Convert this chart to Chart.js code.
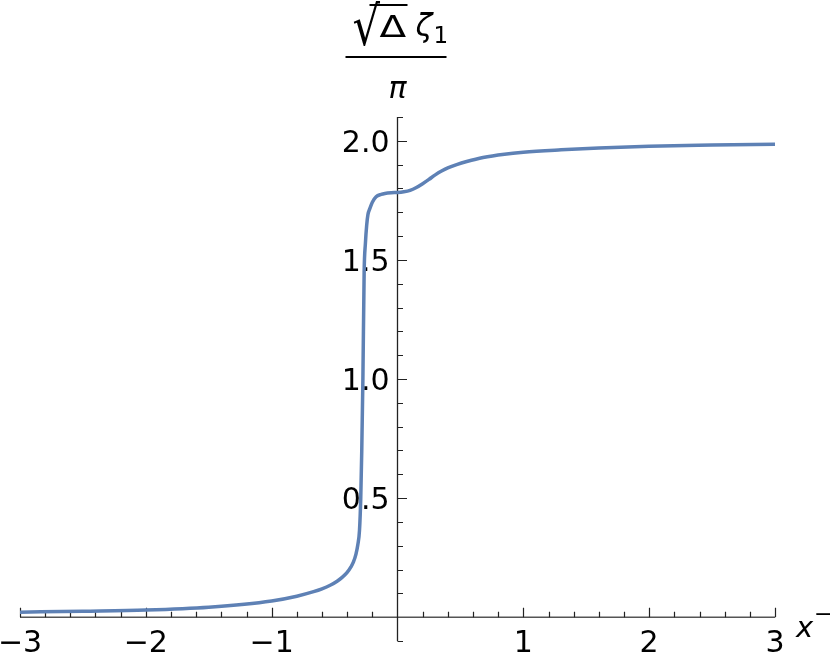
<!DOCTYPE html>
<html>
<head>
<meta charset="utf-8">
<script src="https://cdn.jsdelivr.net/npm/chart.js@4"></script>
<style>
body { margin: 0; background: #fff; }
#plot { display: block; }
</style>
</head>
<body>
<canvas id="plot" width="830" height="664"></canvas>
<script>
// curve
const xValues = [-3, -2.5, -2, -1.5, -1, -0.8, -0.667, -0.6, -0.535, -0.48, -0.44, -0.4, -0.37, -0.35, -0.33,
  -0.315, -0.302, -0.292, -0.284, -0.275, -0.265, -0.255, -0.245, -0.235, -0.22, -0.2, -0.17, -0.13, -0.1, -0.05, 0,
  0.05, 0.1, 0.15, 0.2, 0.25, 0.3, 0.35, 0.4, 0.47, 0.55, 0.68, 0.85, 1.0, 1.3, 1.6, 2.0, 2.5, 3];
const yValues = [0.021, 0.025, 0.030, 0.042, 0.068, 0.088, 0.107, 0.119, 0.134, 0.151, 0.167, 0.188, 0.211, 0.232, 0.265,
  0.305, 0.365, 0.5, 0.7, 1.0, 1.45, 1.57, 1.645, 1.69, 1.715, 1.742, 1.765, 1.775, 1.779, 1.782, 1.783,
  1.786, 1.792, 1.804, 1.82, 1.838, 1.857, 1.873, 1.886, 1.9, 1.913, 1.93, 1.944, 1.952, 1.962, 1.97, 1.977, 1.982, 1.986];

const xTickValues = [-3, -2, -1, 1, 2, 3];
const xTickLabels = ["\u22123", "\u22122", "\u22121", "1", "2", "3"];
const yTickValues = [0.5, 1.0, 1.5, 2.0];
const yTickLabels = ["0.5", "1.0", "1.5", "2.0"];
const xMinorStep = 0.2;
const yMinorStep = 0.1;

var points = xValues.map((x, i) => ({x: x, y: yValues[i]}));

const axesPlugin = {
    id: "axes",
    beforeDatasetsDraw(chart) {
        const ctx = chart.ctx;
        const xs = chart.scales.x;
        const ys = chart.scales.y;
        const x0 = xs.getPixelForValue(0);
        const y0 = ys.getPixelForValue(0);
        ctx.save();

        // x axis
        ctx.strokeStyle = "#555";
        ctx.lineWidth = 1.6;
        ctx.beginPath();
        ctx.moveTo(xs.left, y0);
        ctx.lineTo(xs.right, y0);
        ctx.stroke();
        // y axis
        ctx.strokeStyle = "#222";
        ctx.lineWidth = 1.3;
        ctx.beginPath();
        ctx.moveTo(x0, ys.top);
        ctx.lineTo(x0, ys.bottom);
        ctx.stroke();

        // ticks
        ctx.strokeStyle = "#222";
        ctx.lineWidth = 1.2;
        ctx.beginPath();
        for (let i = Math.round(xs.min / xMinorStep); i <= Math.round(xs.max / xMinorStep); i++) {
            if (i === 0) continue;
            const major = i % 5 === 0;
            const px = Math.round(xs.getPixelForValue(i * xMinorStep)) + 0.5;
            ctx.moveTo(px, y0);
            ctx.lineTo(px, y0 - (major ? 9.5 : 5.5));
        }
        for (let i = Math.round(ys.min / yMinorStep); i <= Math.round(ys.max / yMinorStep); i++) {
            if (i === 0) continue;
            const major = i % 5 === 0;
            const py = Math.round(ys.getPixelForValue(i * yMinorStep)) + 0.5;
            ctx.moveTo(x0, py);
            ctx.lineTo(x0 + (major ? 9.5 : 5.5), py);
        }
        ctx.stroke();

        // tick labels
        ctx.fillStyle = "#000";
        ctx.font = "30px 'DejaVu Sans'";
        ctx.textBaseline = "alphabetic";
        ctx.textAlign = "center";
        xTickValues.forEach((v, i) => {
            ctx.fillText(xTickLabels[i], xs.getPixelForValue(v), y0 + 35);
        });
        ctx.textAlign = "right";
        yTickValues.forEach((v, i) => {
            ctx.fillText(yTickLabels[i], x0 - 8, ys.getPixelForValue(v) + 11);
        });

        // x axis label
        ctx.textAlign = "left";
        ctx.font = "italic 29px 'DejaVu Sans'";
        ctx.fillText("x", xs.right + 21, y0 + 20);
        ctx.font = "22px 'DejaVu Sans'";
        ctx.fillText("\u2212", xs.right + 39, y0 + 4);

        // y axis label: sqrt(Delta) zeta_1 / pi
        const cx = x0;
        ctx.save();
        ctx.translate(cx - 45, 45);
        ctx.scale(0.8, 1);
        ctx.font = "54px 'DejaVu Sans'";
        ctx.fillText("\u221A", 0, 0);
        ctx.restore();
        ctx.strokeStyle = "#000";
        ctx.lineWidth = 2;
        ctx.beginPath();
        ctx.moveTo(cx - 28, 5);
        ctx.lineTo(cx + 10, 5);
        ctx.stroke();
        ctx.save();
        ctx.translate(cx - 18, 37);
        ctx.scale(1.3, 1);
        ctx.font = "30px 'DejaVu Sans'";
        ctx.fillText("\u0394", 0, 0);
        ctx.restore();
        ctx.font = "italic 31px 'DejaVu Sans'";
        ctx.fillText("\u03B6", cx + 18, 36);
        ctx.font = "23px 'DejaVu Sans'";
        ctx.fillText("1", cx + 36, 43);
        ctx.beginPath();
        ctx.moveTo(cx - 52, 57);
        ctx.lineTo(cx + 49, 57);
        ctx.stroke();
        ctx.textAlign = "center";
        ctx.font = "italic 30px 'DejaVu Sans'";
        ctx.fillText("\u03C0", cx, 98);

        ctx.restore();
    }
};

new Chart("plot", {
    type: "line",
    data: {
        datasets: [{
            data: points,
            borderColor: "#5e81b5",
            borderWidth: 3.5,
            pointRadius: 0,
            fill: false,
            cubicInterpolationMode: "monotone"
        }]
    },
    options: {
        responsive: false,
        animation: false,
        devicePixelRatio: 1,
        layout: { padding: { left: 20, right: 55, top: 117, bottom: 23 } },
        plugins: { legend: { display: false }, tooltip: { enabled: false } },
        scales: {
            x: { type: "linear", min: -3, max: 3, display: false },
            y: { type: "linear", min: -0.1, max: 2.1, display: false }
        }
    },
    plugins: [axesPlugin]
});
</script>
</body>
</html>
